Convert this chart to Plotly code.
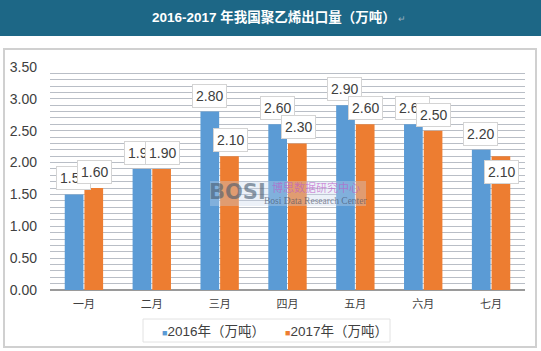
import plotly.graph_objects as go

months = ["一月", "二月", "三月", "四月", "五月", "六月", "七月"]
v2016 = [1.50, 1.90, 2.80, 2.60, 2.90, 2.60, 2.20]
v2017 = [1.60, 1.90, 2.10, 2.30, 2.60, 2.50, 2.10]
name2016 = "2016年（万吨）"
name2017 = "2017年（万吨）"
yticks = [0, 0.5, 1.0, 1.5, 2.0, 2.5, 3.0, 3.5]
title_text = "2016-2017 年我国聚乙烯出口量（万吨）"

W, H = 541, 351
L, R, T, B = 50, 16, 67, 61
PW, PH = W - L - R, H - T - B

def px(x):
    return (x - L) / PW

def py(y):
    return (H - B - y) / PH

blue = "#5b9bd5"
orange = "#ed7d31"

fig = go.Figure()
fig.add_trace(go.Bar(x=months, y=v2016, name=name2016, showlegend=False,
                     marker=dict(color=blue, line=dict(width=0))))
fig.add_trace(go.Bar(x=months, y=v2017, name=name2017, showlegend=False,
                     marker=dict(color=orange, line=dict(width=0))))

annotations = []
offset = 10.5
lab_font = dict(size=14, color="#404040", family="Liberation Sans")
for m, v in zip(months, v2016):
    annotations.append(dict(x=m, y=v, xref="x", yref="y", text=f"{v:.2f}", showarrow=False,
                            xshift=-offset, yshift=16, bgcolor="white", bordercolor="#d4d4d4",
                            borderwidth=1, borderpad=3, font=lab_font))
for i, (m, v) in enumerate(zip(months, v2017)):
    ys = -16 if i == len(months) - 1 else 16
    annotations.append(dict(x=m, y=v, xref="x", yref="y", text=f"{v:.2f}", showarrow=False,
                            xshift=offset, yshift=ys, bgcolor="white", bordercolor="#d4d4d4",
                            borderwidth=1, borderpad=3, font=lab_font))

# title
annotations.append(dict(x=px(150), y=py(17), xref="paper", yref="paper", showarrow=False,
                        text=f"<b>{title_text}</b><span style='color:#9ab0bf;font-size:9px'> ↵</span>",
                        font=dict(size=13.5, color="white", family="Liberation Sans, Noto Sans CJK SC"),
                        xanchor="left", yanchor="middle"))
# watermark
annotations.append(dict(x=px(237), y=py(192), xref="paper", yref="paper", showarrow=False,
                        text="<b>BOSI</b>", font=dict(size=21, color="rgba(70,90,110,0.6)", family="DejaVu Sans"),
                        xanchor="center", yanchor="middle"))
annotations.append(dict(x=px(316), y=py(187), xref="paper", yref="paper", showarrow=False,
                        text="博思数据研究中心", font=dict(size=11, color="rgba(190,90,200,0.65)", family="Noto Sans CJK SC"),
                        xanchor="center", yanchor="middle"))
annotations.append(dict(x=px(315), y=py(200.5), xref="paper", yref="paper", showarrow=False,
                        text="Bosi Data Research Center", font=dict(size=9.5, color="rgba(60,70,90,0.6)", family="Liberation Sans Narrow"),
                        xanchor="center", yanchor="middle"))
# legend (manual, tight spacing like the reference)
leg_font = dict(size=13.5, color="#404040", family="Liberation Sans, Noto Sans CJK SC")
annotations.append(dict(x=px(160), y=py(331), xref="paper", yref="paper", showarrow=False,
                        text=f"<span style='color:{blue};font-size:9px'>■</span>{name2016}",
                        font=leg_font, xanchor="left", yanchor="middle"))
annotations.append(dict(x=px(283), y=py(331), xref="paper", yref="paper", showarrow=False,
                        text=f"<span style='color:{orange};font-size:9px'>■</span>{name2017}",
                        font=leg_font, xanchor="left", yanchor="middle"))

shapes = [
    dict(type="rect", xref="paper", yref="paper", x0=px(0), x1=px(W), y0=py(36), y1=py(0),
         fillcolor="#1d6786", line=dict(width=0), layer="below"),
    dict(type="rect", xref="paper", yref="paper", x0=px(4), x1=px(536), y0=py(347), y1=py(49),
         fillcolor="white", line=dict(color="#d0d0d0", width=2), layer="below"),
    dict(type="rect", xref="paper", yref="paper", x0=px(210), x1=px(366), y0=py(206), y1=py(181),
         fillcolor="rgba(200,215,235,0.35)", line=dict(width=0), layer="above"),
    dict(type="rect", xref="paper", yref="paper", x0=px(143), x1=px(390), y0=py(342), y1=py(319),
         fillcolor="white", line=dict(color="#e2e2e2", width=1), layer="below"),
]

fig.update_layout(
    width=W, height=H,
    margin=dict(l=L, r=R, t=T, b=B, autoexpand=False),
    paper_bgcolor="white",
    plot_bgcolor="#e9eff6",
    barmode="group",
    bargap=0.42,
    bargroupgap=0.05,
    font=dict(family="Liberation Sans, Noto Sans CJK SC", color="#404040"),
    showlegend=False,
    annotations=annotations,
    shapes=shapes,
)
fig.update_yaxes(range=[0, 3.5], tickvals=yticks, ticktext=[f"{t:.2f}" for t in yticks],
                 showgrid=True, gridcolor="#b9bec6", gridwidth=1,
                 minor=dict(dtick=0.1, showgrid=True, gridcolor="#b9bec6", gridwidth=1),
                 tickfont=dict(size=14, color="#404040"), ticks="", zeroline=True, zerolinecolor="#9a9a9a",
                 ticklabelstandoff=12, automargin=False)
fig.update_xaxes(tickfont=dict(size=11, color="#404040", family="Noto Sans CJK SC"), showline=True,
                 linecolor="#9a9a9a", ticks="", ticklabelstandoff=4, automargin=False)

fig.write_html("out.html")
